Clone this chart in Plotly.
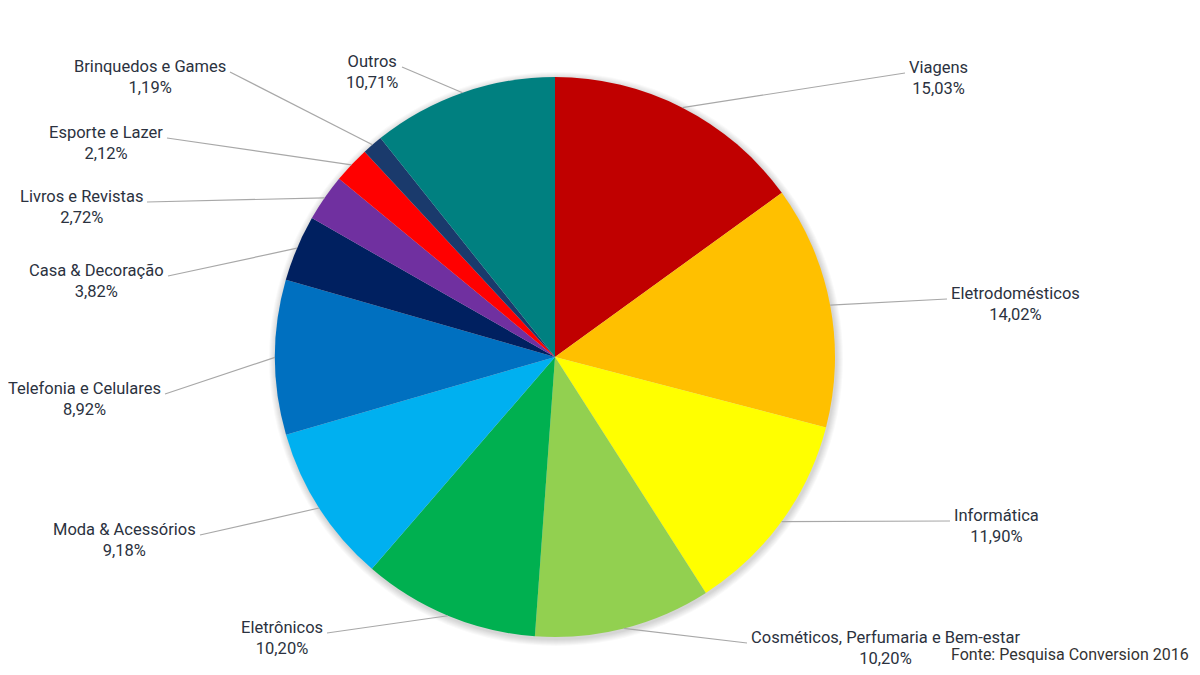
import numpy as np
import plotly.graph_objects as go

# dados (Pesquisa Conversion 2016)
categorias = ["Viagens", "Eletrodomésticos", "Informática",
              "Cosméticos, Perfumaria e Bem-estar", "Eletrônicos",
              "Moda & Acessórios", "Telefonia e Celulares", "Casa & Decoração",
              "Livros e Revistas", "Esporte e Lazer", "Brinquedos e Games", "Outros"]
percentuais = [15.03, 14.02, 11.90, 10.20, 10.20, 9.18, 8.92, 3.82, 2.72, 2.12, 1.19, 10.71]
cores = ["#C00000", "#FFC000", "#FFFF00", "#92D050", "#00B050", "#00B0F0",
         "#0070C0", "#002060", "#7030A0", "#FF0000", "#1A3A6C", "#008080"]

# a página tem margem de 8px no body, então a figura fica um pouco menor
OFF = 8
W, H = 1200 - 2 * OFF, 675 - 2 * OFF
cx, cy, R = 555, 357, 280          # centro e raio da pizza (pixels da tela)
# ponto onde cada linha-guia encontra o rótulo (pixels da tela)
fim_linha = [(905, 73), (947, 299), (950, 521), (747, 643), (327, 633), (200, 535),
             (165, 394), (168, 276), (147, 202), (167, 138), (230, 72), (402, 67)]

txt_cor = "#2B3240"
fonte = "Roboto"

def px2paper(x, y):
    return (x - OFF) / W, 1 - (y - OFF) / H

fig = go.Figure()
d0 = px2paper(cx - R, cy + R)
d1 = px2paper(cx + R, cy - R)
fig.add_trace(go.Pie(
    labels=categorias, values=percentuais, sort=False, direction="clockwise",
    rotation=0, textinfo="none", hoverinfo="label+percent",
    marker=dict(colors=cores, line=dict(width=0)),
    domain=dict(x=[d0[0], d1[0]], y=[d0[1], d1[1]]),
    showlegend=False,
))

# sombra suave em volta da pizza
shapes = []
for k in range(1, 8):
    r = R + k
    x0, y0 = px2paper(cx + 1 - r, cy + 2 + r)
    x1, y1 = px2paper(cx + 1 + r, cy + 2 - r)
    shapes.append(dict(type="circle", xref="paper", yref="paper", x0=x0, y0=y0, x1=x1, y1=y1,
                       fillcolor="rgba(0,0,0,0.025)", line=dict(width=0), layer="below"))

annotations = []
total = sum(percentuais)
acum = np.cumsum([0] + percentuais)
for i, (cat, v) in enumerate(zip(categorias, percentuais)):
    ang = np.deg2rad((acum[i] + v / 2) / total * 360)
    ex, ey = cx + R * np.sin(ang), cy - R * np.cos(ang)
    lx, ly = fim_linha[i]
    a0 = px2paper(ex, ey)
    a1 = px2paper(lx, ly)
    shapes.append(dict(type="line", xref="paper", yref="paper", x0=a0[0], y0=a0[1],
                       x1=a1[0], y1=a1[1], line=dict(color="#A8A8A8", width=1.2)))
    direita = np.rad2deg(ang) < 180
    tx, ty = px2paper(lx + (2 if direita else -2), ly - 17)
    annotations.append(dict(
        x=tx, y=ty, xref="paper", yref="paper", showarrow=False,
        xanchor="left" if direita else "right", yanchor="top", align="center",
        text=f"{cat}<br>{v:.2f}".replace(".", ",") + "%",
        font=dict(family=fonte, size=16.5, color=txt_cor),
    ))

fx, fy = px2paper(1191, 666)
annotations.append(dict(
    x=fx, y=fy, xref="paper", yref="paper", showarrow=False,
    xanchor="right", yanchor="bottom", text="Fonte: Pesquisa Conversion 2016",
    font=dict(family=fonte, size=16, color="#333333"),
))

fig.update_layout(
    width=W, height=H, margin=dict(l=0, r=0, t=0, b=0),
    paper_bgcolor="white", plot_bgcolor="white",
    shapes=shapes, annotations=annotations,
)

fig.write_html("out.html")
